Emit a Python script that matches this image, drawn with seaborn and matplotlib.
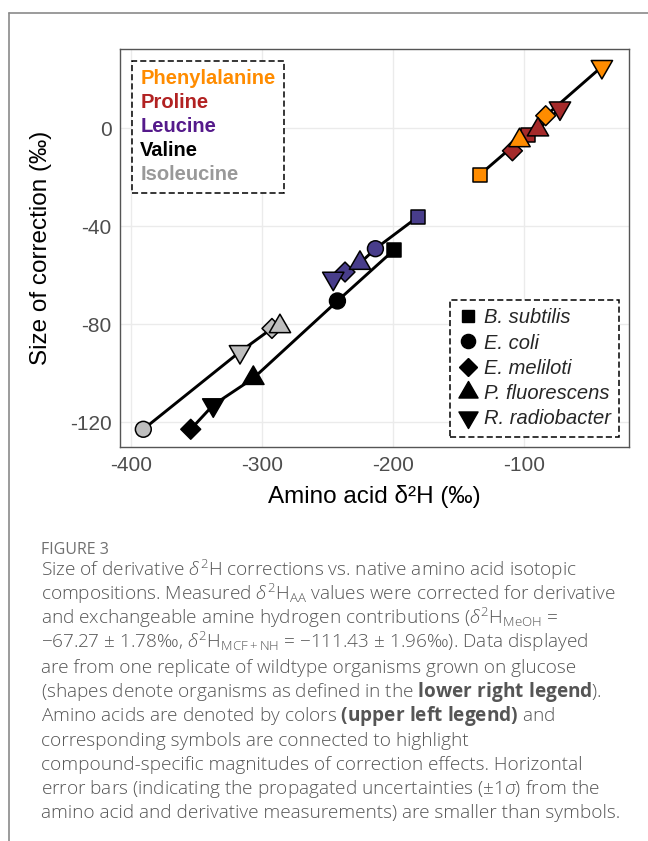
import numpy as np
import pandas as pd
import matplotlib
matplotlib.use("Agg")
import matplotlib.pyplot as plt
import seaborn as sns
from matplotlib.path import Path
from matplotlib.lines import Line2D

# ---------------- data ----------------
amino_acids = ["Phenylalanine", "Proline", "Leucine", "Valine", "Isoleucine"]
organisms = ["B. subtilis", "E. coli", "E. meliloti", "P. fluorescens", "R. radiobacter"]

phe_org = ["B. subtilis", "P. fluorescens", "E. meliloti", "R. radiobacter"]
phe_x = [-133.6, -103.4, -83.4, -40.5]
phe_y = [-19.0, -5.1, 5.0, 25.0]

pro_org = ["E. meliloti", "B. subtilis", "P. fluorescens", "R. radiobacter"]
pro_x = [-108.8, -96.7, -89.3, -72.5]
pro_y = [-9.3, -2.9, -0.7, 8.1]

leu_org = ["R. radiobacter", "E. meliloti", "P. fluorescens", "E. coli", "B. subtilis"]
leu_x = [-245.6, -236.6, -225.2, -213.4, -180.7]
leu_y = [-61.3, -58.7, -55.1, -49.2, -36.1]

val_org = ["E. meliloti", "R. radiobacter", "P. fluorescens", "E. coli", "B. subtilis"]
val_x = [-354.4, -337.2, -306.6, -242.4, -199.2]
val_y = [-122.8, -112.9, -102.0, -70.5, -49.7]

ile_org = ["E. coli", "R. radiobacter", "E. meliloti", "P. fluorescens"]
ile_x = [-390.6, -316.8, -292.4, -286.3]
ile_y = [-122.8, -91.2, -81.7, -80.9]

x_ticks = [-400, -300, -200, -100]
x_tick_labels = ["-400", "-300", "-200", "-100"]
y_ticks = [0, -40, -80, -120]
y_tick_labels = ["0", "-40", "-80", "-120"]

x_label = "Amino acid δ²H (‰)"
y_label = "Size of correction (‰)"

figure_title = "FIGURE 3"
caption_lines = [
    r"Size of derivative $\delta^2$H corrections vs. native amino acid isotopic",
    r"compositions. Measured $\delta^2$H$_{\mathrm{AA}}$ values were corrected for derivative",
    r"and exchangeable amine hydrogen contributions ($\delta^2$H$_{\mathrm{MeOH}}$ =",
    r"$-$67.27 $\pm$ 1.78‰, $\delta^2$H$_{\mathrm{MCF+NH}}$ = $-$111.43 $\pm$ 1.96‰). Data displayed",
    r"are from one replicate of wildtype organisms grown on glucose",
    r"(shapes denote organisms as defined in the $\mathbf{lower\ right\ legend}$).",
    r"Amino acids are denoted by colors $\mathbf{(upper\ left\ legend)}$ and",
    r"corresponding symbols are connected to highlight",
    r"compound-specific magnitudes of correction effects. Horizontal",
    r"error bars (indicating the propagated uncertainties ($\pm1\sigma$) from the",
    r"amino acid and derivative measurements) are smaller than symbols.",
]

# ---------------- styles ----------------
marker_colors = {"Phenylalanine": "#FF8C00", "Proline": "#A52A2A", "Leucine": "#483D8B",
                 "Valine": "#000000", "Isoleucine": "#BEBEBE"}
text_colors = ["#FF8C00", "#B22222", "#551A8B", "#000000", "#999999"]

tri_up = Path([(0, 1.555), (1.347, -0.778), (-1.347, -0.778), (0, 1.555)],
              [Path.MOVETO, Path.LINETO, Path.LINETO, Path.CLOSEPOLY])
tri_down = Path([(0, -1.555), (1.347, 0.778), (-1.347, 0.778), (0, -1.555)],
                [Path.MOVETO, Path.LINETO, Path.LINETO, Path.CLOSEPOLY])
marker_map = {"B. subtilis": "s", "E. coli": "o", "E. meliloti": "D",
              "P. fluorescens": tri_up, "R. radiobacter": tri_down}
r = 5.7
ms_factor = {"B. subtilis": 1.772, "E. coli": 2.0, "E. meliloti": 1.772,
             "P. fluorescens": 3.11, "R. radiobacter": 3.11}
size_map = {k: (v * r) ** 2 for k, v in ms_factor.items()}

# ---------------- build table ----------------
frames = []
for aa, orgs, xs, ys in [("Phenylalanine", phe_org, phe_x, phe_y),
                         ("Proline", pro_org, pro_x, pro_y),
                         ("Leucine", leu_org, leu_x, leu_y),
                         ("Valine", val_org, val_x, val_y),
                         ("Isoleucine", ile_org, ile_x, ile_y)]:
    frames.append(pd.DataFrame({"aa": aa, "org": orgs, "x": xs, "y": ys}))
df = pd.concat(frames, ignore_index=True)
df["org_rank"] = df["org"].map({o: i for i, o in enumerate(organisms)})
df_pts = df.sort_values(["org_rank"], kind="stable").reset_index(drop=True)

# ---------------- figure ----------------
sns.set_theme(style="white")
plt.rcParams["font.family"] = ["Liberation Sans", "DejaVu Sans"]
plt.rcParams["axes.unicode_minus"] = False
plt.rcParams["mathtext.fontset"] = "custom"
plt.rcParams["mathtext.rm"] = "Open Sans:light"
plt.rcParams["mathtext.it"] = "Open Sans:italic:light"
plt.rcParams["mathtext.bf"] = "Open Sans:bold"

W, H = 648, 841
fig = plt.figure(figsize=(W / 100, H / 100), dpi=100)
fig.patch.set_facecolor("white")

ax_l, ax_r, ax_t, ax_b = 120, 629, 49, 446.7
ax = fig.add_axes([ax_l / W, 1 - ax_b / H, (ax_r - ax_l) / W, (ax_b - ax_t) / H])

sns.lineplot(data=df, x="x", y="y", units="aa", estimator=None, sort=True,
             color="black", lw=2.1, ax=ax, legend=False, zorder=2)
sns.scatterplot(data=df_pts, x="x", y="y", hue="aa", palette=marker_colors,
                style="org", markers=marker_map, size="org", sizes=size_map,
                edgecolor="black", linewidth=1.1, ax=ax, legend=False, zorder=3)

ax.set_xlim(-408.4, -19.8)
ax.set_ylim(-129.9, 32.2)
ax.set_xticks(x_ticks)
ax.set_xticklabels(x_tick_labels)
ax.set_yticks(y_ticks)
ax.set_yticklabels(y_tick_labels)
ax.grid(True, color="#EBEBEB", lw=1.0)
ax.set_axisbelow(True)
for sp in ax.spines.values():
    sp.set_visible(True)
    sp.set_color("#555555")
    sp.set_linewidth(1.0)
ax.tick_params(axis="both", direction="out", length=3.6, width=1.0, color="#555555",
               labelsize=15, labelcolor="#4D4D4D")
ax.tick_params(axis="y", pad=2.5)
ax.tick_params(axis="x", pad=3.0)

ax.set_xlabel(x_label, fontsize=17.5, color="black", va="center")
ax.set_ylabel(y_label, fontsize=17.5, color="black", va="center")
ax.xaxis.set_label_coords(0.5, (ax_b - 497) / (ax_b - ax_t))
ax.yaxis.set_label_coords((41 - ax_l) / (ax_r - ax_l), 0.5)

# upper-left colour legend
h1 = [Line2D([], [], linestyle="none", marker=None) for _ in amino_acids]
leg1 = ax.legend(h1, amino_acids, loc="upper left",
                 bbox_to_anchor=(131.7 / W, 1 - 60.7 / H), bbox_transform=fig.transFigure,
                 borderaxespad=0, handlelength=0, handletextpad=0, labelspacing=0.25,
                 borderpad=0.42, prop={"family": "Liberation Sans", "weight": "bold", "size": 14.5},
                 labelcolor=text_colors, fancybox=False, framealpha=1)
fr = leg1.get_frame()
fr.set_edgecolor("black")
fr.set_linewidth(1.1)
fr.set_linestyle((0, (4, 2)))
ax.add_artist(leg1)

# lower-right organism legend
ms_leg = {"B. subtilis": 9.0, "E. coli": 10.2, "E. meliloti": 9.0,
          "P. fluorescens": 15.9, "R. radiobacter": 15.9}
h2 = [Line2D([], [], linestyle="none", marker=marker_map[o], markersize=ms_leg[o],
             markerfacecolor="black", markeredgecolor="black", markeredgewidth=1.0)
      for o in organisms]
leg2 = ax.legend(h2, organisms, loc="lower right",
                 bbox_to_anchor=(619 / W, 1 - 436.7 / H), bbox_transform=fig.transFigure,
                 borderaxespad=0, handlelength=1.0, handletextpad=0.25, labelspacing=0.31,
                 borderpad=0.42, prop={"family": "Liberation Sans", "style": "italic", "size": 14.5},
                 fancybox=False, framealpha=1, numpoints=1)
fr = leg2.get_frame()
fr.set_edgecolor("black")
fr.set_linewidth(1.1)
fr.set_linestyle((0, (4, 2)))

# outer frame lines (top and left)
fig.add_artist(Line2D([9 / W, 1.0], [1 - 13 / H, 1 - 13 / H], transform=fig.transFigure,
                      color="#8a8a8a", lw=1.2))
fig.add_artist(Line2D([9 / W, 9 / W], [0, 1 - 13 / H], transform=fig.transFigure,
                      color="#8a8a8a", lw=1.2))

# caption
fig.text(41 / W, 1 - 554 / H, figure_title, ha="left", va="baseline", fontsize=11.5,
         color="#707070", family="Open Sans", weight="normal")
for i, line in enumerate(caption_lines):
    fig.text(41 / W, 1 - (575.5 + 24.3 * i) / H, line, ha="left", va="baseline",
             fontsize=13.7, color="#555555", family="Open Sans", weight="light")

fig.savefig("out.png", dpi=100)
